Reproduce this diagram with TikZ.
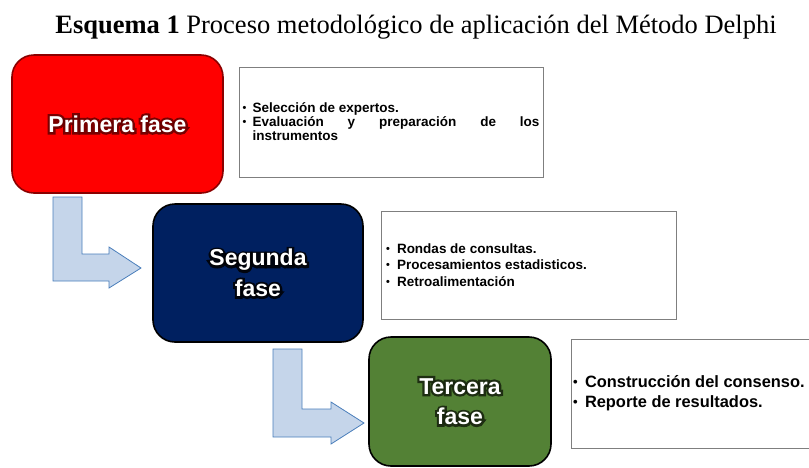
\documentclass[tikz,border=0pt]{standalone}
\usepackage{fontspec}
\setmainfont{Liberation Serif}
\newfontfamily\arialfont{Liberation Sans}
\newfontfamily\halofont{Liberation Sans}[UprightFont={* Bold}, FakeBold=20]

\definecolor{rojofase}{HTML}{FF0000}
\definecolor{bordeRojo}{HTML}{8B0000}
\definecolor{azulfase}{HTML}{002060}
\definecolor{verdefase}{HTML}{538135}
\definecolor{flechaRelleno}{HTML}{C5D5EA}
\definecolor{flechaBorde}{HTML}{4A7EBB}
\definecolor{bordeCaja}{HTML}{7F7F7F}

\newcommand{\punto}[2][10pt]{\noindent\hangindent=#1\hangafter=1%
    \makebox[#1][l]{\raisebox{0.08em}{\scalebox{0.8}{\textbullet}}}#2\par}

\tikzset{
    fase/.style={rectangle, rounded corners=22pt, draw=black, line width=1.6pt},
    fasetexto/.style={font=\arialfont\bfseries\fontsize{23}{30.5}\selectfont, text=white, align=center},
    fasehalo/.style={font=\halofont\fontsize{23}{30.5}\selectfont, opacity=0.85, align=center},
    caja/.style={draw=bordeCaja, line width=0.9pt, fill=white, align=justify, inner ysep=0pt,
        execute at begin node={\hyphenpenalty=10000\tolerance=10000}},
    flecha/.style={fill=flechaRelleno, draw=flechaBorde, line width=0.8pt}
}

\begin{document}
\begin{tikzpicture}[x=1pt, y=-1pt]

    \useasboundingbox (0, 0) rectangle (809, 467);

    % titulo
    \node[anchor=base, font=\fontsize{26.5}{30}\selectfont, inner sep=0pt] (titulo) at (416, 33)
        {\textbf{Esquema 1} Proceso metodológico de aplicación del Método Delphi};

    % flechas
    \draw[flecha] (53, 197) -- (82, 197) -- (82, 254) -- (109, 254) -- (109, 247) -- (141, 268)
        -- (109, 288) -- (109, 281) -- (53, 281) -- cycle;
    \draw[flecha] (273, 349) -- (302, 349) -- (302, 409) -- (331, 409) -- (331, 402) -- (364, 423)
        -- (331, 444) -- (331, 437) -- (273, 437) -- cycle;

    % fases
    \node[fase, fill=rojofase, draw=bordeRojo, minimum width=211pt, minimum height=138pt]
        (primera) at (117.5, 124) {};
    \node[fasehalo, text=bordeRojo!70!black] (primeraH) at (primera.center) {Primera fase};
    \node[fasetexto] (primeraT) at (primera.center) {Primera fase};

    \node[fase, fill=azulfase, minimum width=210pt, minimum height=138pt]
        (segunda) at (258, 273) {};
    \node[fasehalo, text=black] (segundaH) at (segunda.center) {Segunda\\fase};
    \node[fasetexto] (segundaT) at (segunda.center) {Segunda\\fase};

    \node[fase, fill=verdefase, minimum width=182pt, minimum height=129pt]
        (tercera) at (460, 401.5) {};
    \node[fasehalo, text=black!75!verdefase] (terceraH) at (tercera.center) {Tercera\\fase};
    \node[fasetexto] (terceraT) at (tercera.center) {Tercera\\fase};

    % cajas de texto
    \node[caja, minimum height=110pt, text width=297pt, inner xsep=3.5pt,
        font=\arialfont\bfseries\fontsize{13.5}{14}\selectfont] (info1) at (391, 122)
        {\punto{Selección de expertos.}\punto{Evaluación y preparación de los instrumentos}};

    \node[caja, minimum height=108pt, text width=285pt, inner xsep=5pt,
        font=\arialfont\bfseries\fontsize{13.5}{16.5}\selectfont] (info2) at (528.5, 265)
        {\punto[11pt]{Rondas de consultas.}\punto[11pt]{Procesamientos estadisticos.}\punto[11pt]{Retroalimentación}};

    \node[caja, minimum height=109pt, text width=245pt, inner xsep=2pt,
        font=\arialfont\bfseries\fontsize{16.4}{20}\selectfont] (info3) at (695.5, 393.5)
        {\punto[12pt]{Construcción del consenso.}\punto[12pt]{Reporte de resultados.}};

\end{tikzpicture}
\end{document}
